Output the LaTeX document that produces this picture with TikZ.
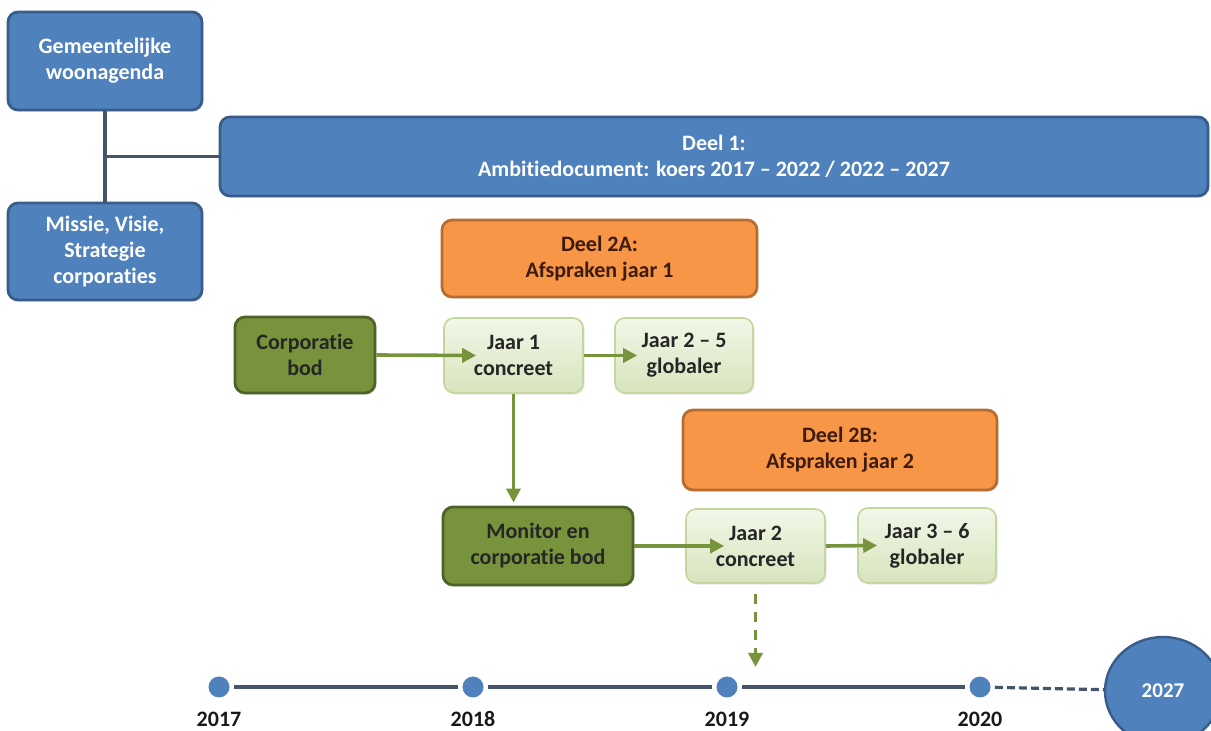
\documentclass[tikz,border=0pt]{standalone}
\usepackage{fontspec}
\setmainfont{Carlito}[RawFeature={-liga;-dlig;-clig}]
\usetikzlibrary{arrows.meta,shadows,shapes.geometric}
\definecolor{blauw}{HTML}{4F81BD}
\definecolor{blauwrand}{HTML}{385D8A}
\definecolor{lijngrijs}{HTML}{44546A}
\definecolor{oranje}{HTML}{F79646}
\definecolor{oranjerand}{HTML}{B66D31}
\definecolor{bruin}{HTML}{3D1B0E}
\definecolor{groen}{HTML}{77933C}
\definecolor{groenrand}{HTML}{4F6228}
\definecolor{lichtboven}{HTML}{F2F7E8}
\definecolor{lichtonder}{HTML}{D7E4BD}
\definecolor{lichtrand}{HTML}{C3D69B}
\begin{document}
\begin{tikzpicture}[x=0.5pt, y=-0.5pt,
    basis/.style={rectangle, rounded corners=5pt, align=center, font=\fontsize{11}{13}\selectfont\bfseries,
        inner sep=0pt, drop shadow={opacity=0.2, shadow xshift=0.8pt, shadow yshift=-0.8pt}},
    blauwbox/.style={basis, draw=blauwrand, line width=1.4pt, fill=blauw, text=white},
    oranjebox/.style={basis, draw=oranjerand, line width=1.4pt, fill=oranje, text=bruin},
    groenbox/.style={basis, draw=groenrand, line width=1.4pt, fill=groen, text=black!85},
    lichtbox/.style={basis, draw=lichtrand, line width=0.8pt, top color=lichtboven, bottom color=lichtonder, text=black!85},
    verbind/.style={draw=lijngrijs, line width=1.6pt},
    pijl/.style={draw=groen, line width=1.8pt, -{Triangle[length=7pt, width=7pt]}},
    stip/.style={circle, fill=blauw, minimum size=10.5pt, inner sep=0pt},
    jaartal/.style={font=\fontsize{11}{13}\selectfont\bfseries, text=black!90}
]
\useasboundingbox (0,0) rectangle (1211,731);

% Woonagenda en corporaties
\node[blauwbox, minimum width=97pt, minimum height=49pt] (gem) at (105,61) {Gemeentelijke\\woonagenda};
\node[blauwbox, minimum width=97pt, minimum height=48.5pt] (missie) at (105,251.5) {Missie, Visie,\\Strategie\\corporaties};

% Deel 1
\node[blauwbox, minimum width=494pt, minimum height=39.5pt] (deel1) at (714,156.5) {Deel 1:\\Ambitiedocument: koers 2017 – 2022 / 2022 – 2027};
\draw[verbind] (gem.south) -- (missie.north);
\draw[verbind] (gem.south |- deel1.west) -- (deel1.west);

% Deel 2A
\node[oranjebox, minimum width=157.5pt, minimum height=38.5pt] (deel2a) at (599.5,258.5) {Deel 2A:\\Afspraken jaar 1};
\node[groenbox, minimum width=70pt, minimum height=38pt] (corp) at (305,355) {Corporatie\\bod};
\node[lichtbox, minimum width=69.5pt, minimum height=37.5pt] (jaar1) at (513.5,355.5) {Jaar 1\\concreet};
\node[lichtbox, minimum width=69pt, minimum height=37.5pt] (jaar25) at (684,355.5) {Jaar 2 – 5\\globaler};
\draw[pijl] (corp.east) -- ([xshift=16.5pt]jaar1.west);
\draw[pijl] (jaar1.east) -- ([xshift=11.5pt]jaar25.west);

% Deel 2B
\node[oranjebox, minimum width=157pt, minimum height=40pt] (deel2b) at (840,450) {Deel 2B:\\Afspraken jaar 2};
\node[groenbox, minimum width=95pt, minimum height=39pt] (monitor) at (538,546) {Monitor en\\corporatie bod};
\node[lichtbox, minimum width=69.5pt, minimum height=37pt] (jaar2) at (755.5,546) {Jaar 2\\concreet};
\node[lichtbox, minimum width=69pt, minimum height=37.5pt] (jaar36) at (927,545.5) {Jaar 3 – 6\\globaler};
\draw[pijl] (jaar1.south) -- ([yshift=1.5pt]jaar1.south |- monitor.north);
\draw[pijl] (monitor.east) -- ([xshift=19.5pt]jaar2.west);
\draw[pijl] (jaar2.east) -- ([xshift=10pt]jaar36.west);
\coordinate (naar2019) at (755.5,667);
\draw[pijl, dashed, dash pattern=on 5pt off 4pt] ([yshift=-5pt]jaar2.south) -- (naar2019);

% Tijdlijn
\foreach \jr/\xx in {2017/219, 2018/473, 2019/727, 2020/980} {
    \node[stip] (t\jr) at (\xx,687) {};
    \node[jaartal] (l\jr) at (\xx,719) {\jr};
}
\node[ellipse, fill=blauw, draw=blauwrand, line width=1.2pt, minimum width=58pt, minimum height=54pt, text=white,
      font=\fontsize{10.5}{12}\selectfont\bfseries] (t2027) at (1163,691) {2027};
\draw[verbind, shorten <=2pt, shorten >=2pt] (t2017) -- (t2018);
\draw[verbind, shorten <=2pt, shorten >=2pt] (t2018) -- (t2019);
\draw[verbind, shorten <=2pt, shorten >=2pt] (t2019) -- (t2020);
\draw[verbind, dashed, dash pattern=on 4pt off 2pt, shorten <=2pt] (t2020) -- (t2027);
\end{tikzpicture}
\end{document}
